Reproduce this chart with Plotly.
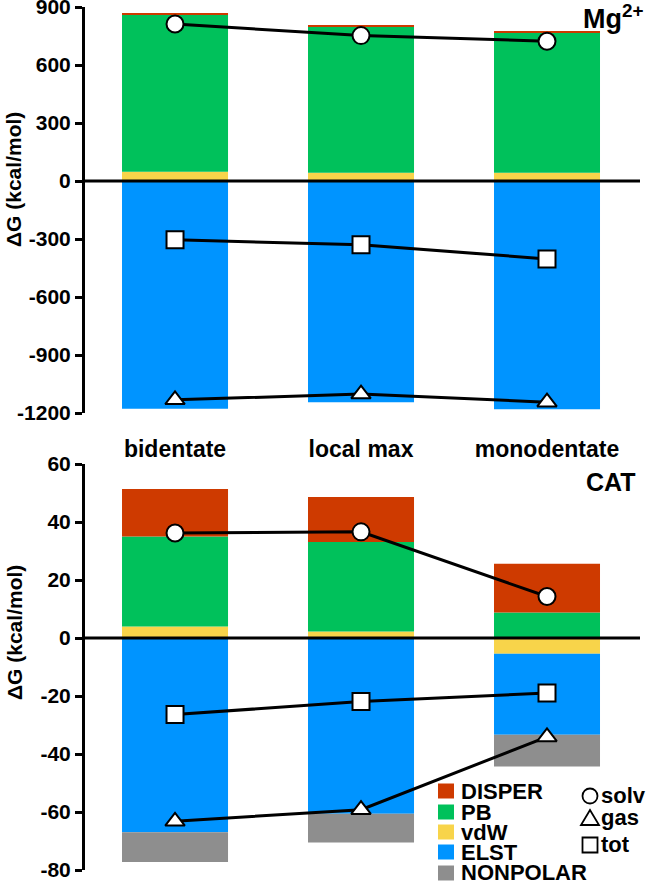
import plotly.graph_objects as go

# ---------------- data ----------------
categories = ["bidentate", "local max", "monodentate"]

# Mg2+ panel (kcal/mol)
mg_vdw = [48, 43, 43]
mg_pb = [812, 755, 723]
mg_disper = [5, 5, 5]
mg_elst = [-1178, -1144, -1181]
mg_nonpolar = [0, 0, 0]
mg_solv = [812, 752, 723]
mg_gas = [-1132, -1102, -1144]
mg_tot = [-304, -330, -403]

# CAT panel (kcal/mol)
cat_vdw = [4.0, 2.2, -5.4]
cat_pb = [31.0, 30.9, 8.8]
cat_disper = [16.4, 15.5, 16.8]
cat_elst = [-67.0, -60.6, -28.0]
cat_nonpolar = [-10.2, -9.9, -10.9]
cat_solv = [36.2, 36.6, 14.3]
cat_gas = [-63.2, -59.2, -34.1]
cat_tot = [-26.4, -21.9, -19.0]

mg_ticks = [-1200, -900, -600, -300, 0, 300, 600, 900]
cat_ticks = [-80, -60, -40, -20, 0, 20, 40, 60]

legend_components = ["DISPER", "PB", "vdW", "ELST", "NONPOLAR"]
legend_lines = ["solv", "gas", "tot"]

# ---------------- styles ----------------
COLORS = {
    "DISPER": "#CE3A00",
    "PB": "#00C15B",
    "vdW": "#F8D44A",
    "ELST": "#0094FF",
    "NONPOLAR": "#8E8E8E",
}
SYMBOLS = {"solv": "circle", "gas": "triangle-up", "tot": "square"}
FONT = "Liberation Sans"
BAR_W = 0.57

W, H = 650, 883
ML, MR, MT, MB = 85, 10, 7, 13
PW, PH = W - ML - MR, H - MT - MB


def px(x):
    return (x - ML) / PW


def py(y):
    return (H - MB - y) / PH


fig = go.Figure()

panels = [
    ("x", "y", dict(vdW=mg_vdw, PB=mg_pb, DISPER=mg_disper, ELST=mg_elst, NONPOLAR=mg_nonpolar),
     dict(solv=mg_solv, tot=mg_tot, gas=mg_gas)),
    ("x2", "y2", dict(vdW=cat_vdw, PB=cat_pb, DISPER=cat_disper, ELST=cat_elst, NONPOLAR=cat_nonpolar),
     dict(solv=cat_solv, tot=cat_tot, gas=cat_gas)),
]

for xa, ya, comps, lines in panels:
    for name in ["vdW", "PB", "DISPER", "ELST", "NONPOLAR"]:
        fig.add_trace(go.Bar(
            x=categories, y=comps[name], name=name, width=BAR_W,
            marker=dict(color=COLORS[name], line=dict(width=0)),
            xaxis=xa, yaxis=ya, showlegend=False,
        ))
    for name in ["solv", "tot", "gas"]:
        fig.add_trace(go.Scatter(
            x=categories, y=lines[name], name=name, mode="lines+markers",
            line=dict(color="black", width=3),
            marker=dict(symbol=SYMBOLS[name], size=17, color="white",
                        line=dict(color="black", width=2)),
            xaxis=xa, yaxis=ya, showlegend=False, cliponaxis=False,
        ))

top_frac = 406 / PH
tickfont = dict(family=FONT, size=21, color="black", weight="bold")

common_y = dict(
    showline=True, linecolor="black", linewidth=3, mirror=False,
    ticks="outside", ticklen=7, tickwidth=3, tickcolor="black",
    showgrid=False, zeroline=False, tickfont=tickfont, automargin=False,
    ticklabeloverflow="allow",
)
common_x = dict(type="category", range=[-0.484, 2.5], domain=[0, 1],
                showline=False, showgrid=False, zeroline=False, ticks="",
                automargin=False)

fig.update_layout(
    template="none",
    width=W, height=H,
    margin=dict(l=ML, r=MR, t=MT, b=MB, autoexpand=False),
    paper_bgcolor="white", plot_bgcolor="white",
    barmode="relative", showlegend=False,
    xaxis=dict(anchor="y",
               tickfont=dict(family=FONT, size=23, color="black", weight="bold"),
               ticklabelstandoff=20, ticklabeloverflow="allow", **common_x),
    xaxis2=dict(anchor="y2", showticklabels=False, **common_x),
    yaxis=dict(domain=[1 - top_frac, 1], anchor="x", range=[-1200, 900],
               tickvals=mg_ticks, ticktext=[str(v) for v in mg_ticks], **common_y),
    yaxis2=dict(domain=[0, top_frac], anchor="x2", range=[-80, 60],
                tickvals=cat_ticks, ticktext=[str(v) for v in cat_ticks], **common_y),
)

shapes = []
# zero lines
for xr, yr in [("x domain", "y"), ("x2 domain", "y2")]:
    shapes.append(dict(type="line", xref=xr, yref=yr, x0=0, x1=1, y0=0, y1=0,
                       line=dict(color="black", width=3), layer="above"))

annotations = []
# y-axis titles
for yc in [180, 633]:
    annotations.append(dict(
        text="ΔG (kcal/mol)", textangle=-90, xref="paper", yref="paper",
        x=px(14), y=py(yc), xanchor="center", yanchor="middle", showarrow=False,
        font=dict(family=FONT, size=21, color="black", weight="bold"),
    ))
# panel labels
annotations.append(dict(text="Mg<sup>2+</sup>", xref="paper", yref="paper",
                        x=px(646), y=py(17), xanchor="right", yanchor="middle",
                        showarrow=False,
                        font=dict(family=FONT, size=27, color="black", weight="bold")))
annotations.append(dict(text="CAT", xref="paper", yref="paper",
                        x=px(638), y=py(482), xanchor="right", yanchor="middle",
                        showarrow=False,
                        font=dict(family=FONT, size=25, color="black", weight="bold")))

# manual legend: bar components
row_y = [791, 812, 832, 852, 873]
for name, yc in zip(legend_components, row_y):
    shapes.append(dict(type="rect", xref="paper", yref="paper",
                       x0=px(438), x1=px(454), y0=py(yc + 7.5), y1=py(yc - 7.5),
                       fillcolor=COLORS[name], line=dict(width=0), layer="above"))
    annotations.append(dict(text=name, xref="paper", yref="paper",
                            x=px(459), y=py(yc), xanchor="left", yanchor="middle",
                            showarrow=False,
                            font=dict(family=FONT, size=22, color="black", weight="bold")))

# manual legend: line symbols
sym_rows = {"solv": 796, "gas": 818, "tot": 845}
sx = 590
for name in legend_lines:
    yc = sym_rows[name]
    if name == "solv":
        shapes.append(dict(type="circle", xref="paper", yref="paper",
                           x0=px(sx - 7.5), x1=px(sx + 7.5), y0=py(yc + 7.5), y1=py(yc - 7.5),
                           line=dict(color="black", width=1.8), fillcolor="white", layer="above"))
    elif name == "gas":
        path = "M {} {} L {} {} L {} {} Z".format(
            px(sx - 9), py(yc + 7), px(sx + 9), py(yc + 7), px(sx), py(yc - 8))
        shapes.append(dict(type="path", xref="paper", yref="paper", path=path,
                           line=dict(color="black", width=1.8), fillcolor="white", layer="above"))
    else:
        shapes.append(dict(type="rect", xref="paper", yref="paper",
                           x0=px(sx - 7.5), x1=px(sx + 7.5), y0=py(yc + 7.5), y1=py(yc - 7.5),
                           line=dict(color="black", width=1.8), fillcolor="white", layer="above"))
    annotations.append(dict(text=name, xref="paper", yref="paper",
                            x=px(599), y=py(yc - 1), xanchor="left", yanchor="middle",
                            showarrow=False,
                            font=dict(family=FONT, size=22, color="black", weight="bold")))

fig.update_layout(shapes=shapes, annotations=annotations)

# the page's default body margin would offset the figure; remove it
fig.write_html("out.html", config={"displayModeBar": False},
               post_script="document.body.style.margin='0';document.body.style.overflow='hidden';")
